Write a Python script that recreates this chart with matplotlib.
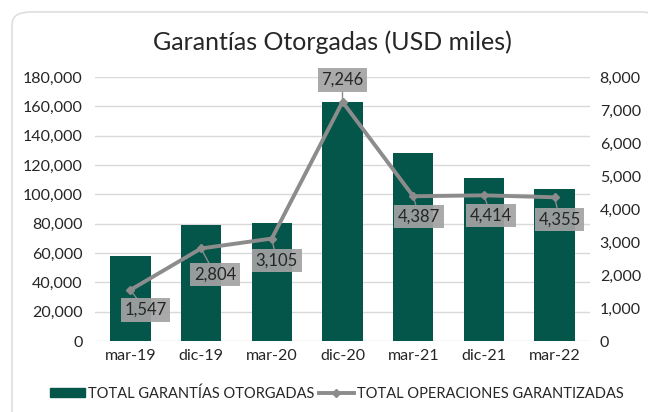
import matplotlib.pyplot as plt
from matplotlib.lines import Line2D
from matplotlib.patches import Patch, FancyBboxPatch
from matplotlib.ticker import FuncFormatter

plt.rcParams['font.family'] = ['Lato', 'DejaVu Sans']

periodos = ["mar-19", "dic-19", "mar-20", "dic-20", "mar-21", "dic-21", "mar-22"]
garantias = [58000, 79000, 80300, 163000, 128500, 111000, 103500]  # USD miles
operaciones = [1547, 2804, 3105, 7246, 4387, 4414, 4355]

# label offsets in pixels (dx, dy) from each line point
label_off = [(15, -20), (14, -26), (5, -22), (0, 22), (6, -20), (7, -20), (5, -22)]

teal = "#05564A"
gris = "#8C8C8C"
txt = "#262626"

fig = plt.figure(figsize=(6.48, 4.12), dpi=100)
# rounded chart border
borde = FancyBboxPatch((12 / 648, -0.05), 1.0, 1.021, boxstyle="round,pad=0,rounding_size=0.03",
                       transform=fig.transFigure, fc="white", ec="#D9D9D9", lw=1.0, zorder=-5)
fig.patches.append(borde)

ax = fig.add_axes([0.1466, 0.1723, 0.7639, 0.6408])
ax.patch.set_alpha(0)
x = range(len(periodos))
ax.bar(x, garantias, width=0.57, color=teal, zorder=2)
ax.set_ylim(0, 180000)
ax.set_yticks(range(0, 180001, 20000))
ax.yaxis.set_major_formatter(FuncFormatter(lambda v, p: f"{int(v):,}"))
ax.set_xlim(-0.5, len(periodos) - 0.5)
ax.set_xticks(list(x))
ax.set_xticklabels(periodos)
ax.grid(axis="y", color="#D9D9D9", lw=1, zorder=0)
ax.set_axisbelow(True)
for s in ax.spines.values():
    s.set_visible(False)
ax.tick_params(length=0, labelsize=11.5, labelcolor=txt, pad=9)
ax.tick_params(axis="x", pad=6)

ax2 = ax.twinx()
ax2.plot(x, operaciones, color=gris, lw=2.8, marker="D", ms=4, zorder=3)
ax2.set_ylim(0, 8000)
ax2.set_yticks(range(0, 8001, 1000))
ax2.yaxis.set_major_formatter(FuncFormatter(lambda v, p: f"{int(v):,}"))
for s in ax2.spines.values():
    s.set_visible(False)
ax2.tick_params(length=0, labelsize=11.5, labelcolor=txt, pad=7)

for i, v in enumerate(operaciones):
    dx, dy = label_off[i]
    ax2.annotate(f"{v:,}", (i, v), xytext=(dx, dy), textcoords="offset pixels",
                 ha="center", va="center", fontsize=12, color=txt, zorder=5,
                 bbox=dict(boxstyle="square,pad=0.22", fc="#A3A3A3", ec="none", alpha=0.92),
                 arrowprops=dict(arrowstyle="-", color=gris, lw=1, shrinkA=0, shrinkB=0))

fig.text(0.513, 0.897, "Garantías Otorgadas (USD miles)", ha="center", va="center",
         fontsize=18, color=txt)

handles = [Patch(color=teal), Line2D([], [], color=gris, lw=2.8, marker="D", ms=4)]
fig.legend(handles, ["TOTAL GARANTÍAS OTORGADAS", "TOTAL OPERACIONES GARANTIZADAS"],
           loc="center", bbox_to_anchor=(0.52, 0.045), ncol=2, frameon=False,
           fontsize=10.5, handlelength=2.4, handleheight=0.5, handletextpad=0.2,
           columnspacing=0.3, labelcolor=txt)

fig.savefig("out.png", dpi=100)
